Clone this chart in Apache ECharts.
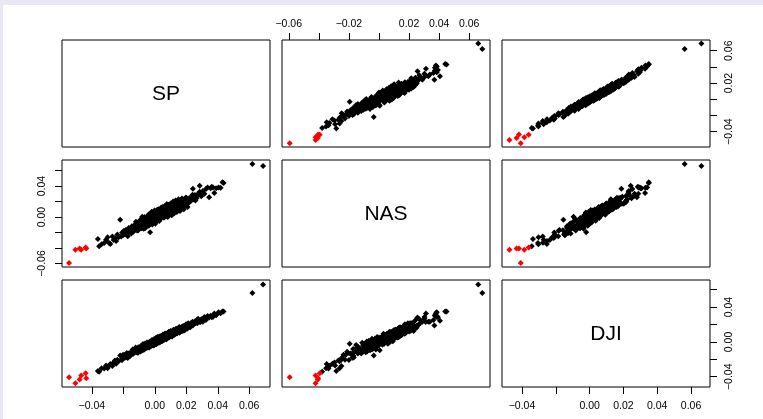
<!DOCTYPE html>
<html><head><meta charset="utf-8">
<script src="https://cdn.jsdelivr.net/npm/echarts@6/dist/echarts.min.js"></script>
<style>
html,body{margin:0;padding:0;background:#e8e8f4;overflow:hidden;}
#bg{position:absolute;left:3px;top:5px;width:760px;height:414px;background:#fff;}
#c{position:absolute;left:0;top:0;width:763px;height:419px;}
</style></head><body><div id="bg"></div><div id="c"></div>
<script>
const varNames = ['SP', 'NAS', 'DJI'];

const sp = [
-0.0362,-0.0354,-0.0338,-0.0322,-0.0310,-0.0300,-0.0292,-0.0283,-0.0270,-0.0262,
-0.0254,-0.0246,-0.0238,-0.0230,-0.0220,-0.0214,-0.0208,-0.0202,-0.0196,-0.0190,
-0.0184,-0.0178,-0.0172,-0.0166,-0.0160,-0.0155,-0.0150,-0.0146,-0.0141,-0.0136,
-0.0131,-0.0127,-0.0122,-0.0118,-0.0113,-0.0109,-0.0105,-0.0101,-0.0097,-0.0093,
-0.0090,-0.0088,-0.0085,-0.0082,-0.0078,-0.0075,-0.0072,-0.0070,-0.0068,-0.0065,
-0.0062,-0.0058,-0.0055,-0.0052,-0.0050,-0.0048,-0.0045,-0.0042,-0.0040,-0.0038,
-0.0035,-0.0032,-0.0030,-0.0027,-0.0024,-0.0021,-0.0020,-0.0018,-0.0015,-0.0012,
-0.0010,-0.0008,-0.0006,-0.0005,-0.0003,-0.0001,0.0000,0.0002,0.0003,0.0004,
0.0006,0.0008,0.0009,0.0010,0.0012,0.0014,0.0015,0.0016,0.0018,0.0020,
0.0021,0.0022,0.0024,0.0026,0.0027,0.0028,0.0030,0.0032,0.0033,0.0034,
0.0036,0.0038,0.0039,0.0040,0.0042,0.0044,0.0045,0.0046,0.0048,0.0050,
0.0051,0.0053,0.0056,0.0057,0.0059,0.0062,0.0063,0.0065,0.0068,0.0069,
0.0071,0.0074,0.0075,0.0077,0.0080,0.0081,0.0083,0.0086,0.0087,0.0089,
0.0092,0.0093,0.0095,0.0098,0.0099,0.0102,0.0105,0.0106,0.0110,0.0111,
0.0114,0.0117,0.0118,0.0122,0.0123,0.0126,0.0129,0.0130,0.0134,0.0135,
0.0138,0.0141,0.0142,0.0146,0.0148,0.0150,0.0155,0.0157,0.0160,0.0165,
0.0168,0.0170,0.0175,0.0178,0.0180,0.0186,0.0190,0.0192,0.0198,0.0200,
0.0205,0.0210,0.0212,0.0220,0.0225,0.0228,0.0236,0.0240,0.0242,0.0245,
0.0255,0.0258,0.0265,0.0270,0.0275,0.0285,0.0285,0.0290,0.0295,0.0305,
0.0315,0.0325,0.0335,0.0345,0.0355,0.0362,0.0370,0.0378,0.0390,0.0405,
0.0418,0.0430,0.0437,0.0620,0.0688,
-0.0120,-0.0105,-0.0095,-0.0088,-0.0080,-0.0072,-0.0066,-0.0060,-0.0054,-0.0047,
-0.0040,-0.0036,-0.0030,-0.0025,-0.0020,-0.0016,-0.0011,-0.0007,-0.0002,0.0003,
0.0007,0.0011,0.0016,0.0019,0.0023,0.0028,0.0033,0.0037,0.0041,0.0047,
0.0052,0.0058,0.0064,0.0070,0.0076,0.0082,0.0088,0.0094,0.0100,0.0108,
0.0116,0.0124,0.0132,0.0140,0.0150,0.0160,0.0172,0.0184,0.0196,0.0208
];
const nas = [
-0.0284,-0.0378,-0.0352,-0.0336,-0.0292,-0.0262,-0.0330,-0.0348,-0.0250,-0.0296,
-0.0270,-0.0310,-0.0226,-0.0262,-0.0035,-0.0252,-0.0200,-0.0236,-0.0176,-0.0222,
-0.0168,-0.0206,-0.0248,-0.0140,-0.0188,-0.0170,-0.0212,-0.0118,-0.0158,-0.0190,
-0.0104,-0.0148,-0.0136,-0.0088,-0.0172,-0.0116,-0.0078,-0.0128,-0.0098,-0.0142,
-0.0080,-0.0042,-0.0086,-0.0143,-0.0021,-0.0105,-0.0088,-0.0152,-0.0047,-0.0055,
-0.0071,-0.0072,-0.0053,-0.0096,-0.0049,-0.0012,-0.0067,-0.0046,-0.0112,-0.0012,
-0.0078,-0.0046,-0.0195,-0.0033,-0.0007,-0.0069,0.0004,-0.0014,-0.0020,-0.0081,
0.0044,-0.0045,-0.0013,-0.0016,-0.0008,0.0023,0.0018,0.0001,-0.0047,-0.0025,
0.0018,0.0029,-0.0012,0.0041,0.0059,-0.0027,0.0092,0.0022,0.0026,0.0029,
0.0023,-0.0004,0.0050,-0.0026,0.0059,0.0067,-0.0013,0.0068,0.0067,0.0042,
0.0023,0.0043,0.0026,0.0032,0.0023,0.0056,0.0086,0.0036,0.0097,-0.0001,
0.0060,0.0071,0.0083,0.0082,0.0044,0.0061,0.0029,0.0069,0.0068,0.0106,
0.0120,0.0030,0.0098,0.0140,0.0052,0.0088,0.0130,0.0040,0.0112,0.0068,
0.0130,0.0062,0.0112,0.0074,0.0142,0.0096,0.0150,0.0084,0.0124,0.0160,
0.0150,0.0082,0.0135,0.0096,0.0170,0.0112,0.0094,0.0158,0.0126,0.0176,
0.0095,0.0190,0.0150,0.0100,0.0178,0.0120,0.0200,0.0128,0.0175,0.0110,
0.0140,0.0210,0.0150,0.0230,0.0175,0.0205,0.0150,0.0235,0.0172,0.0250,
0.0228,0.0172,0.0192,0.0248,0.0232,0.0206,0.0262,0.0288,0.0368,0.0226,
0.0286,0.0214,0.0242,0.0272,0.0302,0.0328,0.0405,0.0310,0.0268,0.0338,
0.0302,0.0362,0.0384,0.0256,0.0372,0.0392,0.0382,0.0312,0.0372,0.0384,
0.0378,0.0449,0.0440,0.0687,0.0660,
-0.0060,-0.0170,-0.0040,-0.0140,0.0005,-0.0120,0.0000,-0.0140,-0.0005,-0.0095,
0.0035,-0.0105,0.0040,-0.0070,0.0070,-0.0095,0.0050,-0.0060,0.0085,-0.0085,
0.0060,-0.0055,0.0095,-0.0030,0.0100,-0.0050,0.0090,-0.0020,0.0125,0.0005,
0.0135,-0.0010,0.0140,0.0010,0.0170,0.0000,0.0160,0.0035,0.0175,0.0025,
0.0200,0.0050,0.0215,0.0065,0.0230,0.0080,0.0240,0.0100,0.0250,0.0130
];
const dji = [
-0.0335,-0.0342,-0.0303,-0.0305,-0.0272,-0.0302,-0.0276,-0.0253,-0.0277,-0.0235,
-0.0212,-0.0252,-0.0206,-0.0221,-0.0155,-0.0204,-0.0209,-0.0146,-0.0183,-0.0151,
-0.0178,-0.0127,-0.0185,-0.0134,-0.0133,-0.0158,-0.0112,-0.0134,-0.0088,-0.0137,
-0.0097,-0.0105,-0.0065,-0.0118,-0.0082,-0.0123,-0.0061,-0.0082,-0.0093,-0.0054,
-0.0110,-0.0062,-0.0043,-0.0078,-0.0087,-0.0023,-0.0065,-0.0036,-0.0087,-0.0035,
-0.0018,-0.0064,-0.0041,-0.0068,-0.0006,-0.0055,-0.0024,-0.0061,-0.0010,-0.0033,
-0.0065,0.0001,-0.0020,-0.0007,-0.0036,0.0012,-0.0025,0.0023,-0.0039,0.0004,
0.0012,-0.0032,0.0030,-0.0021,0.0005,-0.0033,0.0029,-0.0010,0.0036,-0.0012,
-0.0004,0.0045,-0.0021,0.0029,-0.0022,0.0036,0.0007,0.0058,-0.0008,0.0025,
0.0047,0.0009,0.0048,-0.0009,0.0030,0.0008,0.0057,0.0027,0.0041,0.0000,
0.0011,0.0058,0.0026,0.0069,0.0012,0.0045,0.0063,0.0031,0.0054,0.0015,
0.0078,0.0043,0.0074,0.0025,0.0071,0.0028,0.0070,0.0097,0.0040,0.0064,
0.0051,0.0093,0.0031,0.0080,0.0092,0.0064,0.0106,0.0055,0.0081,0.0113,
0.0054,0.0097,0.0081,0.0113,0.0070,0.0120,0.0077,0.0106,0.0063,0.0116,
0.0107,0.0081,0.0139,0.0098,0.0130,0.0082,0.0127,0.0111,0.0148,0.0100,
0.0114,0.0152,0.0101,0.0135,0.0153,0.0117,0.0173,0.0106,0.0150,0.0141,
0.0168,0.0130,0.0162,0.0126,0.0183,0.0159,0.0133,0.0181,0.0202,0.0162,
0.0153,0.0191,0.0214,0.0175,0.0170,0.0216,0.0194,0.0231,0.0188,0.0222,
0.0235,0.0216,0.0248,0.0215,0.0266,0.0231,0.0243,0.0230,0.0262,0.0232,
0.0288,0.0253,0.0297,0.0280,0.0301,0.0285,0.0290,0.0328,0.0307,0.0340,
0.0330,0.0350,0.0350,0.0562,0.0661,
-0.0095,-0.0120,-0.0075,-0.0060,-0.0095,-0.0090,-0.0035,-0.0075,-0.0025,-0.0065,
-0.0020,-0.0045,0.0005,-0.0050,-0.0005,-0.0030,0.0020,-0.0040,0.0015,-0.0025,
0.0040,-0.0020,0.0030,0.0000,0.0055,0.0005,0.0065,0.0005,0.0055,0.0015,
0.0085,0.0030,0.0080,0.0040,0.0095,0.0050,0.0115,0.0060,0.0125,0.0070,
0.0120,0.0085,0.0145,0.0100,0.0155,0.0115,0.0170,0.0135,0.0185,0.0160
];
// highlighted (red) days
const spRed  = [-0.0545,-0.0505,-0.0478,-0.0468,-0.0440,-0.0436];
const nasRed = [-0.0594,-0.0422,-0.0407,-0.0422,-0.0394,-0.0405];
const djiRed = [-0.0407,-0.0474,-0.0432,-0.0386,-0.0360,-0.0418];

// tick positions per variable
const ticksSP  = [-0.04,-0.02,0,0.02,0.04,0.06];
const ticksNAS = [-0.06,-0.04,-0.02,0,0.02,0.04,0.06];
const ticksDJI = [-0.04,-0.02,0,0.02,0.04,0.06];
// tick labels actually printed
const labelsSPbottom  = [-0.04,0,0.02,0.04,0.06];
const labelsSPright   = [-0.04,0.02,0.06];
const labelsNAStop    = [-0.06,-0.02,0.02,0.04,0.06];
const labelsNASleft   = [-0.06,0,0.04];
const labelsDJIbottom = [-0.04,0,0.02,0.04,0.06];
const labelsDJIright  = [-0.04,0,0.04];

// layout
const ranges = [[-0.0590,0.0732],[-0.0645,0.0738],[-0.0518,0.0712]];
const LEFT = [62,282,502], TOP = [40,160,280], W = 208, H = 107;
const FONT = '"Liberation Sans", Arial, Helvetica, sans-serif';

const vals = [sp, nas, dji];
const reds = [spRed, nasRed, djiRed];
const ticks = [ticksSP, ticksNAS, ticksDJI];

function fmt(v){ return (v < -1e-9 ? '\u2212' : '') + Math.abs(v).toFixed(2); }

function makeAxis(dim, k, v, position, labels, margin){
  const shown = labels != null;
  return {
    type:'value', gridIndex:k, min:ranges[v][0], max:ranges[v][1],
    position: position, show: shown,
    axisLine:{show:false, onZero:false}, splitLine:{show:false},
    axisTick:{show:shown, inside:false, length:7, lineStyle:{color:'#000', width:1}, customValues: ticks[v]},
    axisLabel:{show:shown, customValues: labels || [], formatter: fmt, fontSize:10.5, color:'#000',
      fontFamily: FONT, margin: margin, rotate: dim === 'y' ? 90 : 0}
  };
}

const grids = [], xAxes = [], yAxes = [], series = [], graphics = [];
for (let i = 0; i < 3; i++) {
  for (let j = 0; j < 3; j++) {
    const k = i*3 + j;
    grids.push({left:LEFT[j], top:TOP[i], width:W, height:H, show:true,
      borderColor:'#000', borderWidth:1, backgroundColor:'#fff'});
    let xPos = 'bottom', xLab = null, xm = 14;
    if (i === 0 && j === 1) { xPos = 'top'; xLab = labelsNAStop; xm = 10; }
    if (i === 2 && j === 0) { xLab = labelsSPbottom; }
    if (i === 2 && j === 2) { xLab = labelsDJIbottom; }
    xAxes.push(makeAxis('x', k, j, xPos, xLab, xm));
    let yPos = 'left', yLab = null, ym = 14;
    if (i === 1 && j === 0) { yLab = labelsNASleft; }
    if (i === 0 && j === 2) { yPos = 'right'; yLab = labelsSPright; ym = 14; }
    if (i === 2 && j === 2) { yPos = 'right'; yLab = labelsDJIright; ym = 14; }
    yAxes.push(makeAxis('y', k, i, yPos, yLab, ym));

    if (i === j) {
      graphics.push({type:'text', x: LEFT[j] + W/2, y: TOP[i] + H/2 + 1,
        style:{text: varNames[i], fontSize:21, fontFamily: FONT, fill:'#000',
          align:'center', verticalAlign:'middle', textAlign:'center', textVerticalAlign:'middle'}});
    } else {
      const xs = vals[j], ys = vals[i];
      series.push({type:'scatter', xAxisIndex:k, yAxisIndex:k, symbol:'diamond', symbolSize:6,
        itemStyle:{color:'#000', opacity:1}, data: xs.map((x, n) => [x, ys[n]]), silent:true, z:2});
      const rx = reds[j], ry = reds[i];
      series.push({type:'scatter', xAxisIndex:k, yAxisIndex:k, symbol:'diamond', symbolSize:6,
        itemStyle:{color:'#ff0000', opacity:1}, data: rx.map((x, n) => [x, ry[n]]), silent:true, z:3});
    }
  }
}

const chart = echarts.init(document.getElementById('c'), null, {renderer:'canvas'});
chart.setOption({
  animation:false,
  backgroundColor:'transparent',
  grid: grids, xAxis: xAxes, yAxis: yAxes, series: series, graphic: graphics
});
</script></body></html>
